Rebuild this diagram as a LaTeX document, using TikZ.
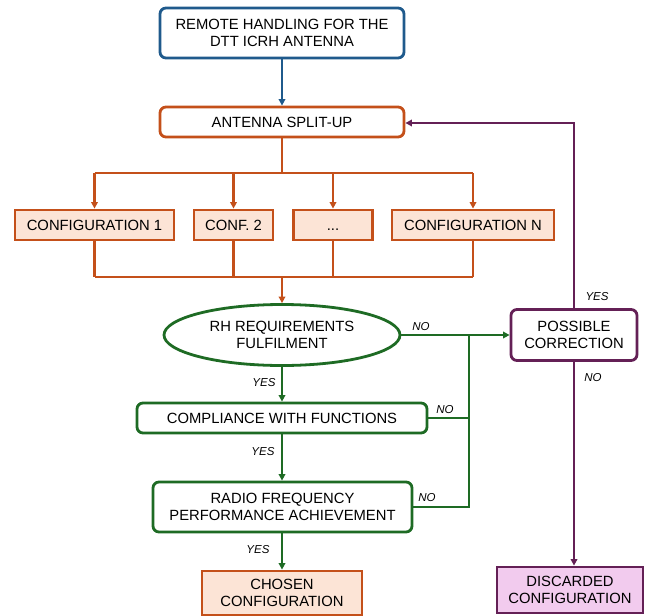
\documentclass[tikz,border=0pt]{standalone}
\usepackage{fontspec}
\setmainfont{Liberation Sans}
\usetikzlibrary{shapes.geometric,arrows.meta}
\definecolor{cblue}{HTML}{1F5A8C}
\definecolor{corange}{HTML}{C4501A}
\definecolor{cpeach}{HTML}{FCE4D6}
\definecolor{cgreen}{HTML}{1E6B24}
\definecolor{cpurple}{HTML}{642056}
\definecolor{cpink}{HTML}{F2CBEE}
\begin{document}
\begin{tikzpicture}[x=1pt,y=-1pt,
  txt/.style={font=\fontsize{14.8}{17}\selectfont, align=center, inner sep=0pt},
  lbl/.style={font=\fontsize{11.5}{13}\selectfont\itshape, inner sep=0pt},
  rbox/.style={draw, line width=2.8pt, rounded corners=6pt, fill=white, minimum width=#1, txt},
  sbox/.style={draw=corange, line width=2.8pt, fill=cpeach, minimum width=#1, txt},
  tip/.style={-{Triangle[length=6.5pt,width=6.5pt]}},
  ln/.style={line width=2.5pt}]
\useasboundingbox (0,0) rectangle (660,615);
% nodes
\node[rbox=244pt, draw=cblue, minimum height=50pt] (top) at (282,33) {REMOTE HANDLING FOR THE\\DTT ICRH ANTENNA};
\node[rbox=244pt, draw=corange, minimum height=30pt] (split) at (282,122) {ANTENNA SPLIT-UP};
\node[sbox=159pt, minimum height=30pt] (c1) at (94.5,225) {CONFIGURATION 1};
\node[sbox=79pt, minimum height=30pt] (c2) at (233.5,225) {CONF. 2};
\node[sbox=79pt, minimum height=30pt] (c3) at (333,225) {\vphantom{C}...};
\node[sbox=162pt, minimum height=30pt] (cn) at (473,225) {CONFIGURATION N};
\node[ellipse, draw=cgreen, line width=2.8pt, fill=white, minimum width=236pt, minimum height=61pt, txt] (rh) at (282,335) {RH REQUIREMENTS\\FULFILMENT};
\node[rbox=290pt, draw=cgreen, minimum height=30pt] (comp) at (282,418) {COMPLIANCE WITH FUNCTIONS};
\node[rbox=259pt, draw=cgreen, minimum height=50pt] (rf) at (282.5,507) {RADIO FREQUENCY\\PERFORMANCE ACHIEVEMENT};
\node[rbox=126pt, draw=cpurple, minimum height=51pt] (pc) at (574,335) {POSSIBLE\\CORRECTION};
\node[sbox=160pt, minimum height=44pt] (chosen) at (282,593) {CHOSEN\\CONFIGURATION};
\node[draw=cpurple, line width=2.8pt, fill=cpink, minimum width=146pt, minimum height=46pt, txt] (disc) at (570,590) {DISCARDED\\CONFIGURATION};
% coordinates
\coordinate (bt) at (282,173);
\coordinate (bb) at (282,277);
\coordinate (j1) at (469,335);
\coordinate (j3) at (469,507);
\coordinate (pt) at (574,123);
% connectors
\draw[ln, cblue, tip] (top.south) -- (split.north);
\draw[ln, corange] (split.south) -- (bt);
\draw[ln, corange] (c1.north |- bt) -- (cn.north |- bt);
\foreach \n in {c1,c2,c3,cn}{
  \draw[ln, corange, tip] (\n.north |- bt) -- (\n.north);
  \draw[ln, corange] (\n.south) -- (\n.south |- bb);
}
\draw[ln, corange] (c1.south |- bb) -- (cn.south |- bb);
\draw[ln, corange, tip] (bb) -- (rh.north);
\draw[ln, cgreen, tip] (rh.east) -- (pc.west);
\draw[ln, cgreen] (comp.east) -- (comp.east -| j1);
\draw[ln, cgreen] (rf.east |- j3) -- (j3) -- (j1);
\draw[ln, cgreen, tip] (rh.south) -- (comp.north);
\draw[ln, cgreen, tip] (comp.south) -- (comp.south |- rf.north);
\draw[ln, cgreen, tip] (comp.south |- rf.south) -- (chosen.north);
\draw[ln, cpurple, tip] (pc.north) -- (pt) -- (split.east |- pt);
\draw[ln, cpurple, tip] (pc.south) -- (pc.south |- disc.north);
% labels
\node[lbl] (n1) at (421,327) {NO};
\node[lbl] (n2) at (445,410) {NO};
\node[lbl] (n3) at (427,498) {NO};
\node[lbl] (y1) at (264,383) {YES};
\node[lbl] (y2) at (263,452) {YES};
\node[lbl] (y3) at (258,550) {YES};
\node[lbl] (y4) at (597,297) {YES};
\node[lbl] (n4) at (593,378) {NO};
\end{tikzpicture}
\end{document}
